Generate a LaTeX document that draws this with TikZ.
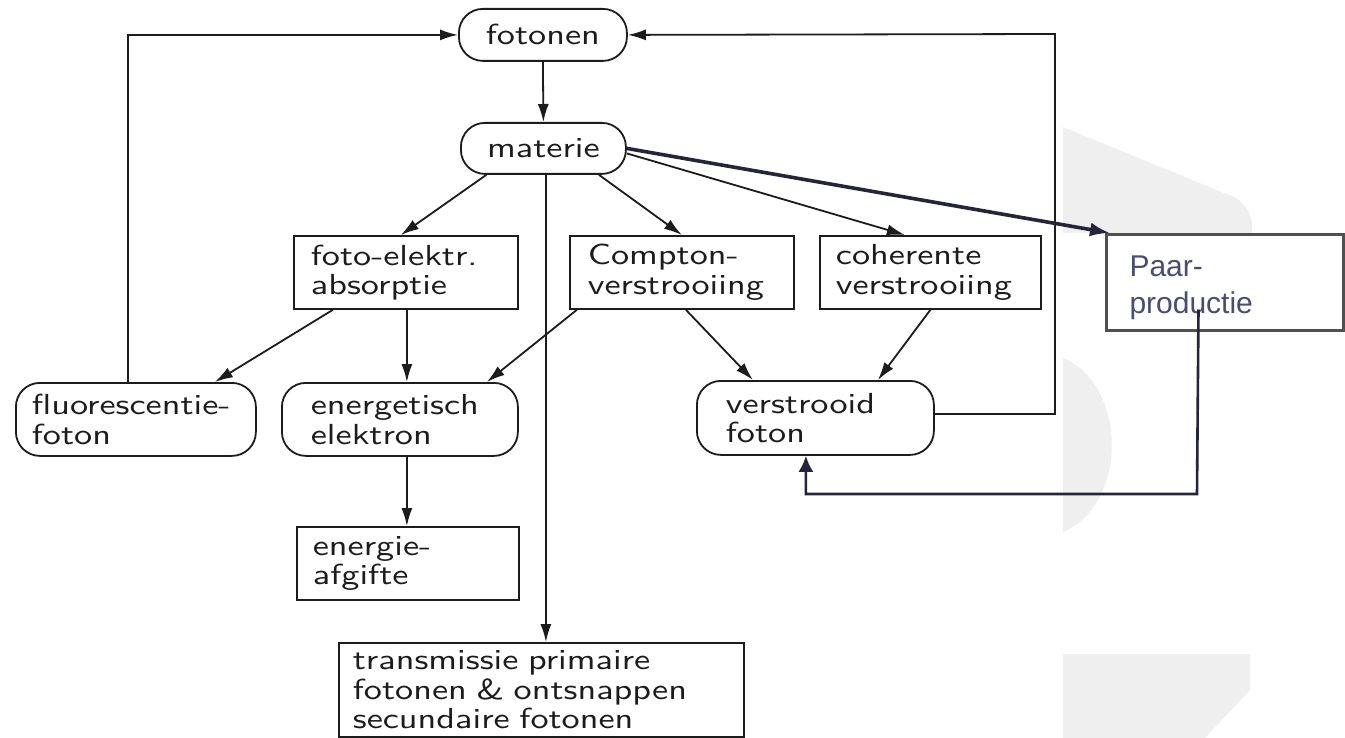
\documentclass[tikz,border=0pt]{standalone}
\usepackage{fontspec}
\newfontfamily\dfont{lmsans10-regular.otf}[FakeStretch=1.25]
\newfontfamily\pfont{Liberation Sans}
\usetikzlibrary{arrows.meta}
\definecolor{ink}{RGB}{28,28,28}
\definecolor{navy}{RGB}{36,36,58}
\definecolor{ptext}{RGB}{76,76,112}
\definecolor{pborder}{RGB}{80,80,80}
\definecolor{wm}{RGB}{239,239,239}
\begin{document}
\begin{tikzpicture}[x=1pt,y=-1pt,
  every node/.style={font=\dfont\fontsize{29}{29.5}\selectfont, text=ink},
  rbox/.style={draw=ink, fill=white, line width=1.8pt, rounded corners=24pt, anchor=north west, inner ysep=0pt, align=left},
  sbox/.style={draw=ink, fill=white, line width=1.8pt, anchor=north west, inner ysep=0pt, align=left},
  arr/.style={draw=ink, line width=1.8pt, -{Latex[length=18pt,width=11pt]}},
  parr/.style={draw=navy, line width=3.6pt, -{Latex[length=20pt,width=14pt]}},
  parr2/.style={draw=navy, line width=2.6pt, -{Latex[length=16pt,width=15pt]}}
]
\fill[white] (0,0) rectangle (1345,738);
\useasboundingbox (0,0) rectangle (1345,738);
% faint watermark shapes
\fill[wm] (1063,127) -- (1236,198) .. controls (1246,205) and (1252,215) .. (1252,225) -- (1252,233) -- (1063,233) -- cycle;
\fill[wm] (1063,358) .. controls (1128,385) and (1128,505) .. (1063,532) -- cycle;
\fill[wm] (1063,654) -- (1250,654) -- (1250,690) -- (1205,738) -- (1063,738) -- cycle;

% nodes
\node[rbox, align=center, inner sep=0pt, minimum width=168pt, minimum height=52pt] (fotonen) at (458,8) {fotonen};
\node[rbox, align=center, inner sep=0pt, minimum width=165pt, minimum height=51pt] (materie) at (460,122) {materie};
\node[sbox, inner xsep=17pt, text width=190pt, minimum height=73pt] (foto) at (293,235) {foto-elektr.\\absorptie};
\node[sbox, inner xsep=18pt, text width=188pt, minimum height=73pt] (compton) at (569,235) {Compton-\\verstrooiing};
\node[sbox, inner xsep=16pt, text width=189pt, minimum height=73pt] (coherente) at (819,235) {coherente\\verstrooiing};
\node[rbox, inner xsep=16pt, text width=208pt, minimum height=73pt] (fluor) at (15,382) {fluorescentie-\\foton};
\node[rbox, inner xsep=29pt, text width=178pt, minimum height=73pt] (energetisch) at (281,382) {energetisch\\elektron};
\node[rbox, inner xsep=29pt, text width=179pt, minimum height=74pt] (verstrooid) at (696,380) {verstrooid\\foton};
\node[sbox, inner xsep=16pt, text width=190pt, minimum height=73pt] (energie) at (296,526) {energie-\\afgifte};
\node[sbox, inner xsep=14pt, text width=377pt, minimum height=94pt] (transmissie) at (338,642) {transmissie primaire\\fotonen \& ontsnappen\\secundaire fotonen};
\node[draw=pborder, fill=white, line width=3pt, anchor=north west, inner ysep=0pt, inner xsep=23pt, text width=191pt, minimum height=96pt, align=left, text depth=33.5pt, font=\pfont\fontsize{30}{37}\selectfont, text=ptext] (paar) at (1105,233) {Paar-\\productie};

% connectors
\draw[arr] (fotonen.south) -- (materie.north);
\draw[arr] ([xshift=-57pt]materie.south) -- ([xshift=-5pt]foto.north);
\draw[arr] ([xshift=55.5pt]materie.south) -- (compton.north);
\draw[arr] ([yshift=-5pt]materie.east) -- ([xshift=-25.5pt]coherente.north);
\draw[arr] ([xshift=2.5pt]materie.south) -- ([xshift=2.5pt]materie.south |- transmissie.north);
\draw[arr] ([xshift=-73pt]foto.south) -- ([xshift=79pt]fluor.north);
\draw[arr] ([xshift=1pt]foto.south) -- ([xshift=1pt]foto.south |- energetisch.north);
\draw[arr] ([xshift=-105pt]compton.south) -- ([xshift=87pt]energetisch.north);
\draw[arr] ([xshift=4pt]compton.south) -- ([xshift=-62.5pt]verstrooid.north);
\draw[arr] (coherente.south) -- ([xshift=62.5pt]verstrooid.north);
\draw[arr] ([xshift=7pt]energetisch.south) -- ([xshift=7pt]energetisch.south |- energie.north);
\draw[arr] ([xshift=-8pt]fluor.north) |- (fotonen.west);
\coordinate (rc) at (1055,34);
\draw[arr] ([yshift=4pt]verstrooid.east) -| (rc) -- (fotonen.east);

\draw[parr] (materie.east) -- ([xshift=5pt]paar.north west);
\coordinate (pturn) at (1197,494);
\draw[parr2] ([xshift=-26.5pt,yshift=-27pt]paar.center) -- (pturn) -| ([xshift=-9.5pt]verstrooid.south);
\end{tikzpicture}
\end{document}
